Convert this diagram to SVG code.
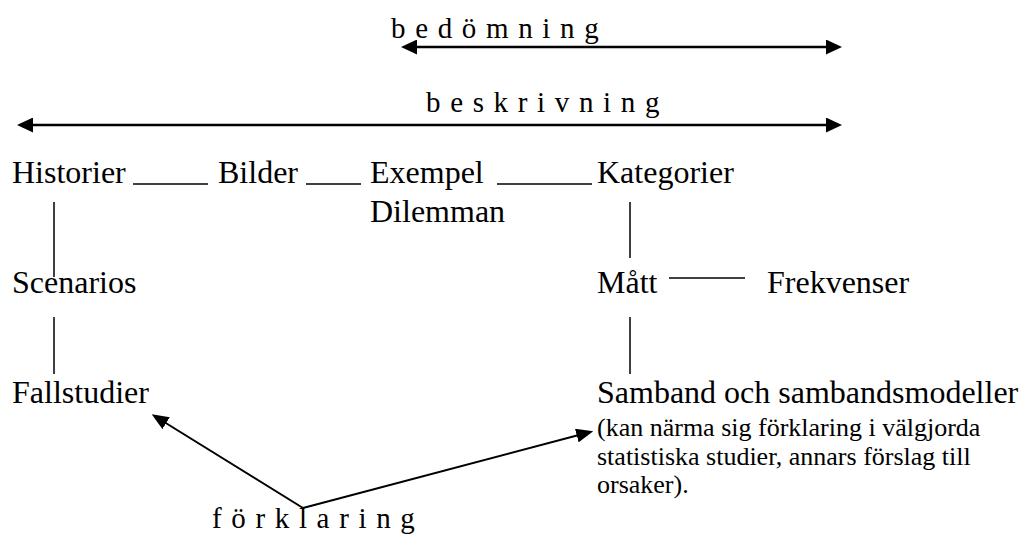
<svg xmlns="http://www.w3.org/2000/svg" width="1022" height="541" viewBox="0 0 1022 541">
  <style>
    text { fill: #000; }
    .big { font-size: 32px; }
    .note { font-size: 26px; }
    .spaced { font-size: 29px; letter-spacing: 1.2px; }
    .rule { stroke: #000; stroke-width: 1.5; fill: none; }
    .span { stroke: #000; stroke-width: 2.5; fill: none; marker-start: url(#head); marker-end: url(#head); }
    .expl { stroke: #000; stroke-width: 2; fill: none; marker-end: url(#headSmall); }
  </style>
  <defs>
    <marker id="head" markerUnits="userSpaceOnUse" markerWidth="16" markerHeight="15" refX="8" refY="7.5" orient="auto-start-reverse">
      <path d="M0,0 L16,7.5 L0,15 z" fill="#000"/>
    </marker>
    <marker id="headSmall" markerUnits="userSpaceOnUse" markerWidth="17" markerHeight="14" refX="9" refY="7" orient="auto">
      <path d="M0,0 L17,7 L0,14 z" fill="#000"/>
    </marker>
  </defs>

  <rect width="1022" height="541" fill="#fff"/>

  <g font-family="Liberation Serif, Times New Roman, DejaVu Serif, serif">
    <!-- scale labels -->
    <g id="bedomning">
      <text class="spaced" x="391" y="38">b e d ö m n i n g</text>
    </g>
    <g id="beskrivning">
      <text class="spaced" x="426" y="112">b e s k r i v n i n g</text>
    </g>
    <g id="forklaring">
      <text class="spaced" x="212" y="528">f ö r k l a r i n g</text>
    </g>

    <!-- nodes -->
    <g id="historier"><text class="big" x="12" y="183">Historier</text></g>
    <g id="bilder"><text class="big" x="218" y="183">Bilder</text></g>
    <g id="exempel">
      <text class="big" x="370" y="183">Exempel</text>
      <text class="big" x="370" y="222">Dilemman</text>
    </g>
    <g id="kategorier"><text class="big" x="597" y="183">Kategorier</text></g>
    <g id="scenarios"><text class="big" x="12" y="293">Scenarios</text></g>
    <g id="matt"><text class="big" x="597" y="293">Mått</text></g>
    <g id="frekvenser"><text class="big" x="767" y="293">Frekvenser</text></g>
    <g id="fallstudier"><text class="big" x="12" y="403">Fallstudier</text></g>
    <g id="samband">
      <text class="big" x="597" y="403">Samband och sambandsmodeller</text>
      <text class="note" x="597" y="436">(kan närma sig förklaring i välgjorda</text>
      <text class="note" x="597" y="465">statistiska studier, annars förslag till</text>
      <text class="note" x="597" y="493">orsaker).</text>
    </g>
  </g>

  <!-- connectors -->
  <g id="connectors">
    <line class="span" x1="409" y1="47" x2="834" y2="47"/>
    <line class="span" x1="25" y1="125" x2="834" y2="125"/>

    <line class="rule" x1="133" y1="184" x2="208" y2="184"/>
    <line class="rule" x1="306" y1="184" x2="361" y2="184"/>
    <line class="rule" x1="497" y1="184" x2="592" y2="184"/>

    <line class="rule" x1="54" y1="202" x2="54" y2="277"/>
    <line class="rule" x1="54" y1="317" x2="54" y2="374"/>
    <line class="rule" x1="630" y1="202" x2="630" y2="258"/>
    <line class="rule" x1="630" y1="317" x2="630" y2="374"/>
    <line class="rule" x1="669" y1="278" x2="745" y2="278"/>

    <line class="expl" x1="303" y1="508" x2="158.5" y2="418.5"/>
    <line class="expl" x1="303" y1="508" x2="585.5" y2="433.3"/>
  </g>
</svg>
